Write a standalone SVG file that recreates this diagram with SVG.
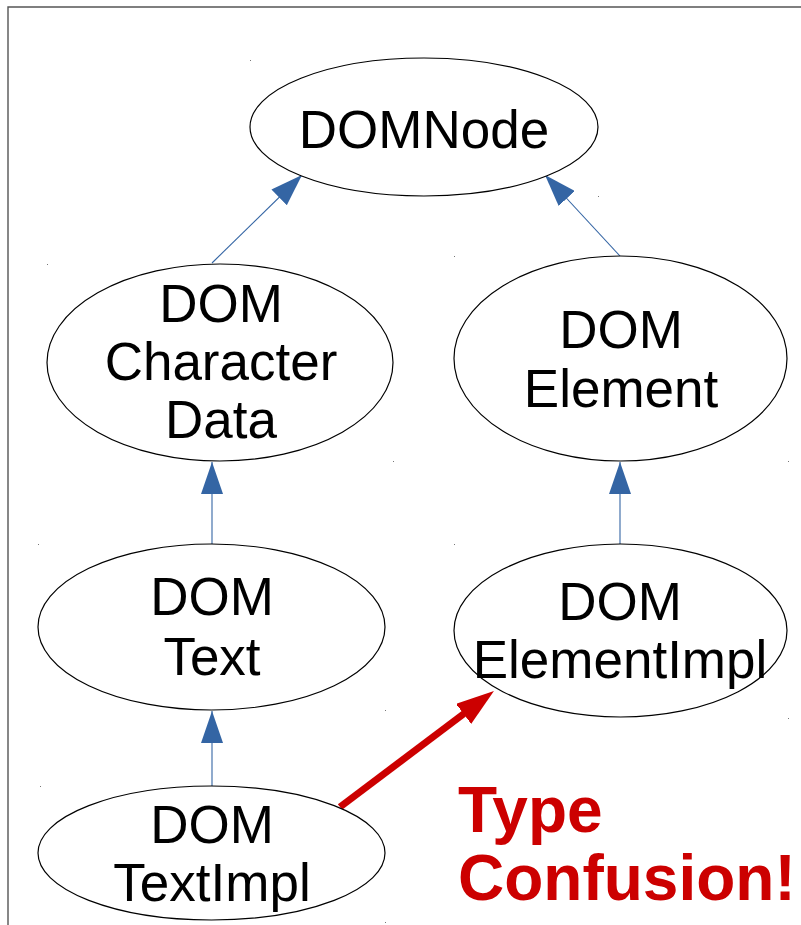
<svg xmlns="http://www.w3.org/2000/svg" width="801" height="925" viewBox="0 0 801 925">
  <style>
    .node { fill: #ffffff; stroke: #000000; stroke-width: 1.2; }
    .label { font-family: "Liberation Sans", Arial, sans-serif; font-size: 53px; fill: #000000; text-anchor: middle; }
    .alert { font-family: "Liberation Sans", Arial, sans-serif; font-size: 64px; font-weight: bold; fill: #cc0000; }
    .inherit { stroke: #3465a4; stroke-width: 1.1; fill: none; marker-end: url(#blueHead); }
    .confuse { stroke: #cc0000; stroke-width: 7; fill: none; marker-end: url(#redHead); }
    .frame { stroke: #555555; stroke-width: 1.4; fill: none; }
    .dot { fill: #777777; }
  </style>
  <defs>
    <marker id="blueHead" markerUnits="userSpaceOnUse" viewBox="0 0 32 22" refX="32" refY="11" markerWidth="32" markerHeight="22" orient="auto">
      <path d="M0,0 L32,11 L0,22 z" fill="#3465a4"/>
    </marker>
    <marker id="redHead" markerUnits="userSpaceOnUse" viewBox="0 0 38 25" refX="4" refY="12.5" markerWidth="38" markerHeight="25" orient="auto">
      <path d="M0,0 L38,12.5 L0,25 z" fill="#cc0000"/>
    </marker>
  </defs>

  <rect width="801" height="925" fill="#ffffff"/>
  <!-- page frame -->
  <path class="frame" d="M8,925 L8,7 L801,7"/>

  <!-- bounding-box corner marks -->
  <g id="marks">
    <rect class="dot" x="250" y="60" width="1" height="1"/>
    <rect class="dot" x="598" y="196" width="1" height="1"/>
    <rect class="dot" x="47" y="264" width="1" height="1"/>
    <rect class="dot" x="393" y="461" width="1" height="1"/>
    <rect class="dot" x="454" y="256" width="1" height="1"/>
    <rect class="dot" x="788" y="461" width="1" height="1"/>
    <rect class="dot" x="38" y="544" width="1" height="1"/>
    <rect class="dot" x="385" y="710" width="1" height="1"/>
    <rect class="dot" x="454" y="544" width="1" height="1"/>
    <rect class="dot" x="788" y="718" width="1" height="1"/>
    <rect class="dot" x="40" y="786" width="1" height="1"/>
    <rect class="dot" x="385" y="922" width="1" height="1"/>
  </g>

  <g id="connectors">
    <path class="inherit" d="M212,263 L302,175"/>
    <path class="inherit" d="M620,256 L545,175"/>
    <path class="inherit" d="M212,544 L212,462"/>
    <path class="inherit" d="M620,544 L620,462"/>
    <path class="inherit" d="M212,786 L212,711"/>
    <path class="confuse" d="M340,807 L466.8,711.5"/>
  </g>

  <g id="DOMNode">
    <ellipse class="node" cx="424" cy="127" rx="174" ry="69"/>
    <text class="label" x="424" y="148">DOMNode</text>
  </g>

  <g id="DOMCharacterData">
    <ellipse class="node" cx="220" cy="362.5" rx="173" ry="98.5"/>
    <text class="label" x="221" y="322">DOM</text>
    <text class="label" x="221" y="380">Character</text>
    <text class="label" x="221" y="438">Data</text>
  </g>

  <g id="DOMElement">
    <ellipse class="node" cx="620.5" cy="358.5" rx="166.5" ry="102.5"/>
    <text class="label" x="621" y="348">DOM</text>
    <text class="label" x="621" y="407">Element</text>
  </g>

  <g id="DOMText">
    <ellipse class="node" cx="211.5" cy="627" rx="173.5" ry="83"/>
    <text class="label" x="212" y="615">DOM</text>
    <text class="label" x="212" y="675">Text</text>
  </g>

  <g id="DOMElementImpl">
    <ellipse class="node" cx="620.5" cy="630.5" rx="166.5" ry="86.5"/>
    <text class="label" x="620" y="620">DOM</text>
    <text class="label" x="620" y="678">ElementImpl</text>
  </g>

  <g id="DOMTextImpl">
    <ellipse class="node" cx="211.5" cy="853" rx="173.5" ry="67"/>
    <text class="label" x="212" y="843">DOM</text>
    <text class="label" x="212" y="901">TextImpl</text>
  </g>

  <g id="TypeConfusion">
    <text class="alert" x="458" y="832">Type</text>
    <text class="alert" x="458" y="900">Confusion!</text>
  </g>
</svg>
